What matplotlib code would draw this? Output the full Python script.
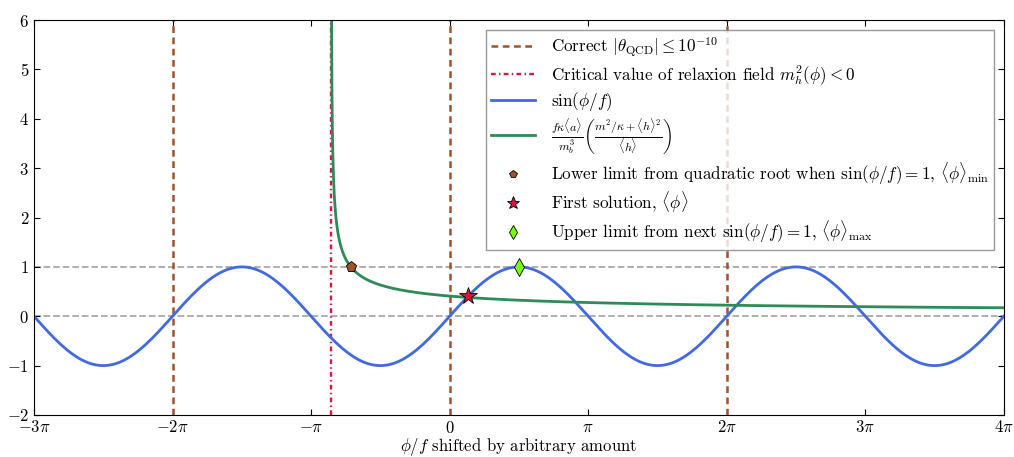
import numpy as np
import matplotlib
matplotlib.use("Agg")
import matplotlib.pyplot as plt

# values (x in radians, phi/f)
theta_lines = [-2 * np.pi, 0.0, 2 * np.pi]     # correct |theta_QCD| positions
phi_crit = -2.69                                 # critical value of relaxion field
curve_amp = 0.67                                 # amplitude of the green branch
ref_levels = [0, 1]                              # grey dashed guides
x_tick_mult = [-3, -2, -1, 0, 1, 2, 3, 4]
x_tick_labels = [r'$-3\pi$', r'$-2\pi$', r'$-\pi$', r'$0$', r'$\pi$',
                 r'$2\pi$', r'$3\pi$', r'$4\pi$']
y_ticks = [-2, -1, 0, 1, 2, 3, 4, 5, 6]

phi_min = -2.24          # lower limit (green curve = 1)
phi_star = 0.412         # first solution
phi_max = np.pi / 2      # next sin = 1

plt.rcParams['font.family'] = 'serif'
plt.rcParams['font.serif'] = ['cmr10', 'DejaVu Serif']
plt.rcParams['mathtext.fontset'] = 'cm'
plt.rcParams['axes.unicode_minus'] = False
plt.rcParams['font.size'] = 12


def main():
    fig = plt.figure(figsize=(10.14, 4.57), dpi=100)
    ax = fig.add_axes([0.0335, 0.092, 0.9565, 0.864])

    x = np.linspace(-3 * np.pi, 4 * np.pi, 2000)
    xg = np.linspace(phi_crit + 1e-3, 4 * np.pi, 3000)

    for lv in ref_levels:
        ax.axhline(lv, color='darkgray', ls='--', lw=1.3, zorder=1)

    for i, xv in enumerate(theta_lines):
        ax.axvline(xv, color='sienna', lw=1.8, dashes=(2.7, 1.8),
                   label=r'Correct $|\theta_{\rm QCD}| \leq 10^{-10}$' if i == 0 else None)
    ax.axvline(phi_crit, color='crimson', lw=1.7, dashes=(2, 1.4, 0.6, 1.4),
               label=r'Critical value of relaxion field $m_h^2(\phi) < 0$')

    ax.plot(x, np.sin(x), color='royalblue', lw=2, label=r'$\sin(\phi/f)$')
    ax.plot(xg, curve_amp / np.sqrt(xg - phi_crit), color='seagreen', lw=2,
            label=r'$\frac{f\kappa\langle a\rangle}{m_b^3}'
                  r'\left(\frac{m^2/\kappa+\langle h\rangle^2}{\langle h\rangle}\right)$')

    ax.plot(phi_min, 1, 'p', color='sienna', mec='black', mew=0.6, ms=8, ls='none',
            label=r'Lower limit from quadratic root when $\sin(\phi/f) = 1$, $\langle\phi\rangle_{\rm min}$')
    ax.plot(phi_star, np.sin(phi_star), '*', color='crimson', mec='black', mew=0.6, ms=13,
            ls='none', label=r'First solution, $\langle\phi\rangle$')
    ax.plot(phi_max, 1, 'd', color='lawngreen', mec='black', mew=0.6, ms=9, ls='none',
            label=r'Upper limit from next $\sin(\phi/f) = 1$, $\langle\phi\rangle_{\rm max}$')

    ax.set_xlim(-3 * np.pi, 4 * np.pi)
    ax.set_ylim(-2, 6)
    ax.set_xticks([m * np.pi for m in x_tick_mult])
    ax.set_xticklabels(x_tick_labels)
    ax.set_yticks(y_ticks)
    ax.set_yticklabels([r'$%d$' % v for v in y_ticks])
    ax.tick_params(direction='in', top=True, right=True, length=4)
    ax.set_xlabel(r'$\phi/f$ shifted by arbitrary amount', labelpad=0)

    leg = ax.legend(loc='upper right', numpoints=1, fancybox=False, fontsize=12.3,
                    handlelength=2.6, handletextpad=0.9, borderaxespad=0.6,
                    labelspacing=0.2, markerscale=0.75, borderpad=0.3)
    leg.get_frame().set_edgecolor('gray')

    fig.savefig('out.png', dpi=100)


if __name__ == "__main__":
    main()
